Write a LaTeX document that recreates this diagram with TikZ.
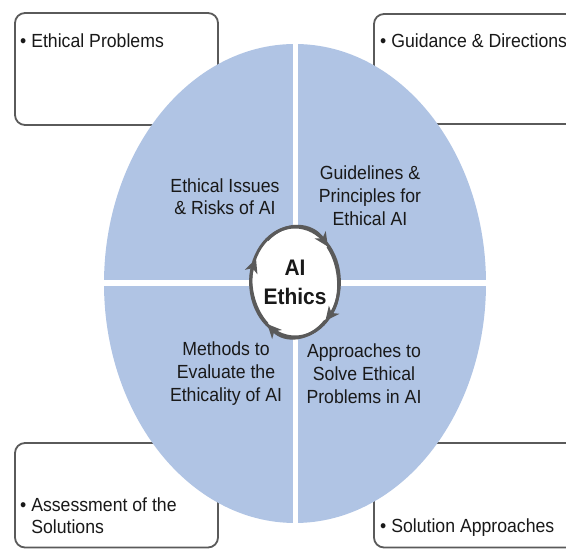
\documentclass[tikz,border=0pt]{standalone}
\usepackage{fontspec}
\setmainfont{Liberation Sans}[FakeStretch=0.93]
\usetikzlibrary{arrows.meta,shapes.geometric}
\definecolor{petal}{RGB}{176,196,228}
\definecolor{rim}{RGB}{90,90,90}
\definecolor{ink}{RGB}{25,25,25}
\begin{document}
\begin{tikzpicture}[x=1pt,y=1pt,
  card/.style={draw=rim,line width=1.8pt,rounded corners=10pt,fill=white},
  lab/.style={font=\fontsize{19}{23}\selectfont,text=ink,align=center,inner sep=0pt},
  blt/.style={font=\fontsize{19}{22}\selectfont,text=ink,align=left,inner sep=0pt},
  ring/.style={draw=rim,line width=3pt},
  turn/.style={ring,-{Stealth[length=14pt,width=13pt,inset=4pt]}}]
\clip (0,0) rectangle (566,549);
\useasboundingbox (0,0) rectangle (566,549);
% side cards
\draw[card] (15,424) rectangle (218,536);
\draw[card] (374,425) rectangle (600,535);
\draw[card] (15,1.5) rectangle (218,106);
\draw[card] (374,1.5) rectangle (600,106);
% main ellipse with quadrants
\fill[petal] (295,265.5) ellipse [x radius=191, y radius=239.5];
\draw[white,line width=5pt] (295.5,20) -- (295.5,530);
\draw[white,line width=6pt] (95,265.5) -- (500,265.5);
% centre
\node (core) [ellipse, ring, fill=white, minimum width=86pt, minimum height=110pt, inner sep=0pt,
  font=\bfseries\fontsize{22.5}{29}\selectfont, text=ink, align=center] at (295,267) {AI\\Ethics};
\draw[turn] (core.center) ++(130:43 and 55) arc [start angle=130, end angle=40, x radius=43, y radius=55];
\draw[turn] (core.center) ++(40:43 and 55) arc [start angle=40, end angle=-45, x radius=43, y radius=55];
\draw[turn] (core.center) ++(-45:43 and 55) arc [start angle=-45, end angle=-130, x radius=43, y radius=55];
\draw[turn] (core.center) ++(-130:43 and 55) arc [start angle=-130, end angle=-205, x radius=43, y radius=55];
% quadrant labels
\node[lab,font=\fontsize{19}{22}\selectfont] (q1) at (225,352) {Ethical Issues\\\& Risks of AI};
\node[lab] (q2) at (370,353) {Guidelines \&\\Principles for\\Ethical AI};
\node[lab] (q3) at (226,175) {Methods to\\Evaluate the\\Ethicality of AI};
\node[lab] (q4) at (364,175) {Approaches to\\Solve Ethical\\Problems in AI};
% card labels
\node[blt,anchor=base west] (b1) at (20,501) {\textbullet\ Ethical Problems};
\node[blt,anchor=base west] (b2) at (380,501) {\textbullet\ Guidance \& Directions};
\node[blt,anchor=west] (b3) at (20,33.5) {\textbullet\ Assessment of the\\\phantom{\textbullet\ }Solutions};
\node[blt,anchor=base west] (b4) at (380,16) {\textbullet\ Solution Approaches};
\end{tikzpicture}
\end{document}
